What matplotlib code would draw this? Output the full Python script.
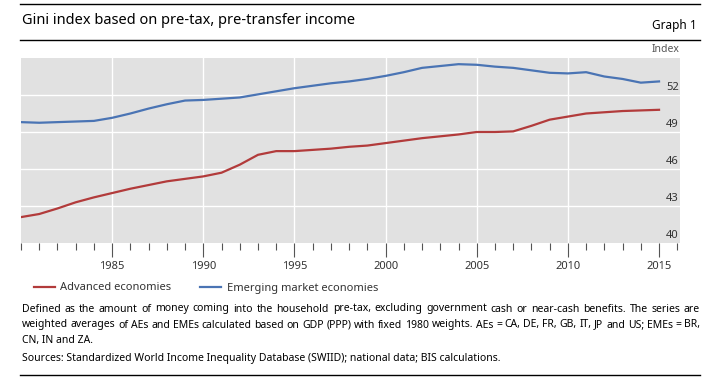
import matplotlib
matplotlib.use('Agg')
import matplotlib.pyplot as plt
from matplotlib.lines import Line2D
from matplotlib.ticker import MultipleLocator

plt.rcParams['font.family'] = ['Noto Sans', 'DejaVu Sans']

# Data (annual, 1980-2015)
years = list(range(1980, 2016))
advanced = [42.1, 42.35, 42.8, 43.3, 43.7, 44.05, 44.4, 44.7, 45.0, 45.2,
            45.4, 45.7, 46.35, 47.15, 47.45, 47.45, 47.55, 47.65, 47.8, 47.9,
            48.1, 48.3, 48.5, 48.65, 48.8, 49.0, 49.0, 49.05, 49.5, 50.0,
            50.25, 50.5, 50.6, 50.7, 50.75, 50.8]
emerging = [49.8, 49.75, 49.8, 49.85, 49.9, 50.15, 50.5, 50.9, 51.25, 51.55,
            51.6, 51.7, 51.8, 52.05, 52.3, 52.55, 52.75, 52.95, 53.1, 53.3,
            53.55, 53.85, 54.2, 54.35, 54.5, 54.45, 54.3, 54.2, 54.0, 53.8,
            53.75, 53.85, 53.5, 53.3, 53.0, 53.1]
y_ticks = [40, 43, 46, 49, 52]
x_major = [1985, 1990, 1995, 2000, 2005, 2010, 2015]

red = '#b23b3b'
blue = '#4a74b4'
txt = '#333333'

fig = plt.figure(figsize=(7.07, 3.79), dpi=100)
ax = fig.add_axes([21 / 707, 1 - 243 / 379, 659 / 707, 185 / 379])
ax.set_facecolor('#e1e1e1')

ax.plot(years, emerging, color=blue, lw=1.6, zorder=3)
ax.plot(years, advanced, color=red, lw=1.6, zorder=3)

ax.set_xlim(1980, 2016.15)
ax.set_ylim(40, 55)

for s in ax.spines.values():
    s.set_visible(False)

# white grid
for y in y_ticks[1:]:
    ax.axhline(y, color='white', lw=1, zorder=1)
for x in x_major[:-1]:
    ax.axvline(x, color='white', lw=1, zorder=1)

ax.set_xticks(x_major)
ax.xaxis.set_minor_locator(MultipleLocator(1))
ax.tick_params(axis='x', which='major', length=10, width=0.8, color='#555555',
               labelsize=8, labelcolor=txt, pad=3)
ax.tick_params(axis='x', which='minor', length=5, width=0.8, color='#555555')
ax.set_yticks([])

# y labels sit just above their gridline, inside the plot at the right
for y in y_ticks:
    ax.text(0.998, y + 0.15, str(y), transform=ax.get_yaxis_transform(),
            ha='right', va='bottom', fontsize=8, color=txt)
fig.text(680 / 707, 1 - 50 / 379, 'Index', ha='right', va='center', fontsize=7.5, color='#555555')

# header / footer rules
for yp in (4, 40, 375):
    fig.add_artist(Line2D([20 / 707, 700 / 707], [1 - yp / 379] * 2, color='black', lw=1))

fig.text(22 / 707, 1 - 21 / 379, 'Gini index based on pre-tax, pre-transfer income',
         ha='left', va='center', fontsize=10.5, color='black')
fig.text(697 / 707, 1 - 26 / 379, 'Graph 1', ha='right', va='center', fontsize=8.5, color='black')

handles = [Line2D([], [], color=red, lw=1.6), Line2D([], [], color=blue, lw=1.6)]
fig.legend(handles, ['Advanced economies', 'Emerging market economies'],
           loc='center left', bbox_to_anchor=(28 / 707, 1 - 288 / 379), ncol=2,
           frameon=False, fontsize=8, handlelength=1.9, handletextpad=0.5,
           columnspacing=2.6, labelcolor=txt, borderpad=0)

notes = ['Defined as the amount of money coming into the household pre-tax, excluding government cash or near-cash benefits. The series are',
         'weighted averages of AEs and EMEs calculated based on GDP (PPP) with fixed 1980 weights. AEs = CA, DE, FR, GB, IT, JP and US; EMEs = BR,',
         'CN, IN and ZA.']


def justified(line, y_px, x0=22, x1=700, size=7.5):
    # place words one by one so the line fills x0..x1
    renderer = fig.canvas.get_renderer()
    words = line.split(' ')
    arts = [fig.text(0, 1 - y_px / 379, w, ha='left', va='center', fontsize=size, color='black')
            for w in words]
    widths = [a.get_window_extent(renderer).width for a in arts]
    gap = (x1 - x0 - sum(widths)) / (len(words) - 1)
    x = x0
    for a, w in zip(arts, widths):
        a.set_x(x / 707)
        x += w + gap


justified(notes[0], 309)
justified(notes[1], 325)
fig.text(22 / 707, 1 - 341 / 379, notes[2], ha='left', va='center', fontsize=7.5, color='black')
fig.text(22 / 707, 1 - 358 / 379,
         'Sources: Standardized World Income Inequality Database (SWIID); national data; BIS calculations.',
         ha='left', va='center', fontsize=7.5, color='black')

fig.savefig('out.png', dpi=100)
